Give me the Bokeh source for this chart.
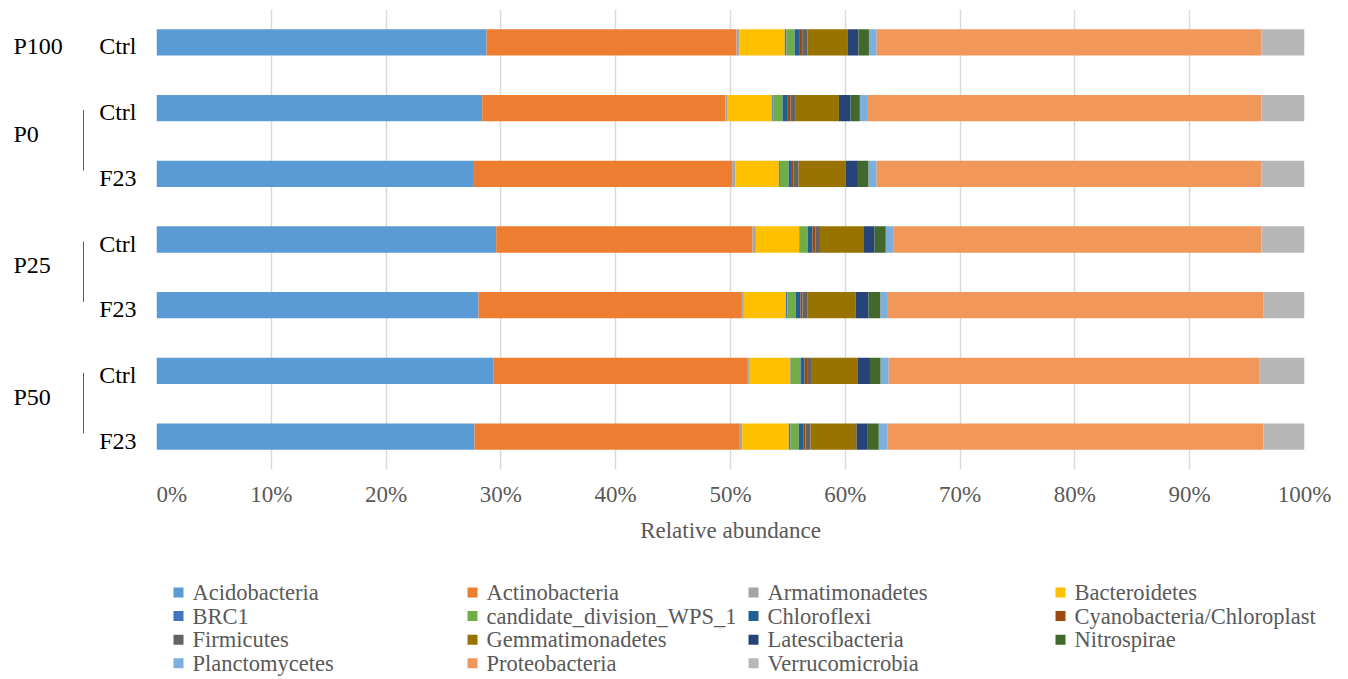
from bokeh.plotting import figure
from bokeh.models import Range1d, FixedTicker, PrintfTickFormatter, ColumnDataSource
from bokeh.layouts import row, column
from bokeh.embed import file_html
from bokeh.resources import INLINE
from bokeh.core.properties import value

# ---------------- data ----------------
groups = ["P100", "P0", "P0", "P25", "P25", "P50", "P50"]
treatments = ["Ctrl", "Ctrl", "F23", "Ctrl", "F23", "Ctrl", "F23"]

phyla = ["Acidobacteria", "Actinobacteria", "Armatimonadetes", "Bacteroidetes",
         "BRC1", "candidate_division_WPS_1", "Chloroflexi", "Cyanobacteria/Chloroplast",
         "Firmicutes", "Gemmatimonadetes", "Latescibacteria", "Nitrospirae",
         "Planctomycetes", "Proteobacteria", "Verrucomicrobia"]

acidobacteria = [28.75, 28.37, 27.57, 29.59, 28.05, 29.33, 27.70]
actinobacteria = [21.78, 21.19, 22.58, 22.33, 22.94, 22.18, 23.11]
armatimonadetes = [0.23, 0.20, 0.26, 0.29, 0.17, 0.17, 0.21]
bacteroidetes = [3.97, 3.87, 3.80, 3.78, 3.66, 3.55, 4.06]
brc1 = [0.15, 0.09, 0.09, 0.05, 0.12, 0.11, 0.15]
wps_1 = [0.70, 0.81, 0.76, 0.70, 0.75, 0.76, 0.72]
chloroflexi = [0.46, 0.46, 0.29, 0.41, 0.41, 0.35, 0.38]
cyanobacteria = [0.21, 0.24, 0.12, 0.24, 0.17, 0.29, 0.20]
firmicutes = [0.44, 0.46, 0.46, 0.40, 0.46, 0.35, 0.44]
gemmatimonadetes = [3.54, 3.75, 4.12, 3.78, 4.18, 4.01, 4.01]
latescibacteria = [0.91, 1.02, 1.05, 0.98, 1.11, 1.05, 0.98]
nitrospirae = [0.92, 0.81, 0.93, 0.98, 1.05, 0.93, 0.96]
planctomycetes = [0.67, 0.70, 0.70, 0.64, 0.64, 0.70, 0.73]
proteobacteria = [33.54, 34.29, 33.54, 32.08, 32.73, 32.32, 32.78]
verrucomicrobia = [3.75, 3.74, 3.73, 3.75, 3.56, 3.90, 3.57]

series = [acidobacteria, actinobacteria, armatimonadetes, bacteroidetes, brc1, wps_1,
          chloroflexi, cyanobacteria, firmicutes, gemmatimonadetes, latescibacteria,
          nitrospirae, planctomycetes, proteobacteria, verrucomicrobia]

colors = ["#5B9BD5", "#ED7D31", "#A5A5A5", "#FFC000", "#4472C4", "#70AD47",
          "#255E91", "#9E480E", "#636363", "#997300", "#264478", "#43682B",
          "#7CAFDD", "#F1975A", "#B7B7B7"]

x_ticks = [0, 10, 20, 30, 40, 50, 60, 70, 80, 90, 100]

# ---------------- styles ----------------
SERIF = "'Liberation Serif', 'Times New Roman', serif"
GREY_TXT = "#595959"
FRAME_H = 460
LEFT_W = 156
MAIN_FW = 1148
RIGHT_B = 36
TOP_B = 9
BOTTOM_B = 78
TOTAL_W = LEFT_W + MAIN_FW + RIGHT_B

n = len(treatments)
ypos = list(range(n))
y_range = Range1d(n - 0.5, -0.5)

# ---------------- main chart ----------------
keys = ["s%d" % i for i in range(len(phyla))]
data = {"y": ypos}
for k, s in zip(keys, series):
    data[k] = s
src = ColumnDataSource(data)

p = figure(frame_width=MAIN_FW, frame_height=FRAME_H, x_range=Range1d(0, 100),
           y_range=y_range, toolbar_location=None, output_backend="svg",
           y_axis_type=None, min_border_left=0, min_border_right=RIGHT_B,
           min_border_top=TOP_B, min_border_bottom=BOTTOM_B)
p.hbar_stack(keys, y="y", height=0.4, color=colors, line_color=None, source=src)

p.outline_line_color = None
p.ygrid.visible = False
p.xgrid.ticker = FixedTicker(ticks=x_ticks)
p.xgrid.grid_line_color = "#D9D9D9"
p.xgrid.grid_line_width = 1.5
p.xaxis.ticker = FixedTicker(ticks=x_ticks)
p.xaxis.formatter = PrintfTickFormatter(format="%d%%")
p.xaxis.axis_line_color = None
p.xaxis.major_tick_line_color = None
p.xaxis.minor_tick_line_color = None
p.xaxis.major_tick_out = 0
p.xaxis.major_tick_in = 0
p.xaxis.major_label_standoff = 12
p.xaxis.major_label_text_font = SERIF
p.xaxis.major_label_text_font_size = "23px"
p.xaxis.major_label_text_color = GREY_TXT
p.xaxis.axis_label = "Relative abundance"
p.xaxis.axis_label_text_font = SERIF
p.xaxis.axis_label_text_font_size = "23px"
p.xaxis.axis_label_text_font_style = "normal"
p.xaxis.axis_label_text_color = GREY_TXT
p.xaxis.axis_label_standoff = 8

# ---------------- left labels ----------------
left = figure(frame_width=LEFT_W, frame_height=FRAME_H, x_range=Range1d(0, LEFT_W),
              y_range=y_range, toolbar_location=None, output_backend="svg",
              x_axis_type=None, y_axis_type=None, min_border_left=0,
              min_border_right=0, min_border_top=TOP_B, min_border_bottom=0)
left.outline_line_color = None
left.grid.visible = False

left.text(x=[136] * n, y=ypos, text=treatments, text_font=value(SERIF),
          text_font_size="24px", text_color="#000000", text_align="right",
          text_baseline="middle", y_offset=4)

uniq = []
for g in groups:
    if g not in uniq:
        uniq.append(g)
g_y, g_lo, g_hi, g_off = [], [], [], []
for g in uniq:
    idx = [i for i, gg in enumerate(groups) if gg == g]
    g_y.append(sum(idx) / len(idx))
    g_lo.append(min(idx))
    g_hi.append(max(idx))
    g_off.append(4 if len(idx) == 1 else -7)
gsrc = ColumnDataSource(dict(x=[13] * len(uniq), y=g_y, t=uniq, off=g_off))
left.text(x="x", y="y", text="t", y_offset="off", source=gsrc, text_font=value(SERIF),
          text_font_size="24px", text_color="#000000", text_align="left",
          text_baseline="middle")
br = [(lo, hi) for lo, hi in zip(g_lo, g_hi) if hi > lo]
left.segment(x0=[83] * len(br), x1=[83] * len(br),
             y0=[lo + 0.03 for lo, hi in br], y1=[hi - 0.05 for lo, hi in br],
             line_color="#595959", line_width=1)

# ---------------- legend ----------------
LEG_H = 131
leg = figure(width=TOTAL_W, height=LEG_H, x_range=Range1d(0, TOTAL_W),
             y_range=Range1d(LEG_H, 0), toolbar_location=None, output_backend="svg",
             x_axis_type=None, y_axis_type=None, min_border=0)
leg.outline_line_color = None
leg.grid.visible = False
col_x = [178, 472, 753, 1060]
row_y0 = 45
row_dy = 23.6
mx, my, tx = [], [], []
for i, name in enumerate(phyla):
    c, r = i % 4, i // 4
    mx.append(col_x[c])
    my.append(row_y0 + r * row_dy)
    tx.append(col_x[c] + 14)
leg.scatter(x=mx, y=my, marker="square", size=10, color=colors, line_color=None)
leg.text(x=tx, y=my, text=phyla, text_font=value(SERIF), text_font_size="22.5px",
         text_color=GREY_TXT, text_baseline="middle", text_align="left")

layout = column(row(left, p, spacing=0), leg, spacing=0)
open("out.html", "w").write(file_html(layout, INLINE))
